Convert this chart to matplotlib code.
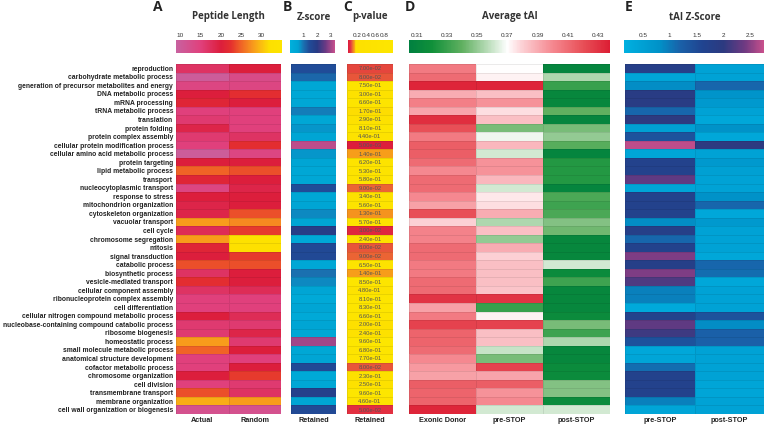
"""GO-term heatmap panel: peptide length, Z-score, p-value, tAI and tAI Z-score."""
import matplotlib

matplotlib.use("Agg")
import matplotlib.pyplot as plt
import numpy as np
from matplotlib.cm import ScalarMappable
from matplotlib.colors import LinearSegmentedColormap, Normalize

go_terms = [
    "reproduction", "carbohydrate metabolic process",
    "generation of precursor metabolites and energy", "DNA metabolic process",
    "mRNA processing", "tRNA metabolic process", "translation", "protein folding",
    "protein complex assembly", "cellular protein modification process",
    "cellular amino acid metabolic process", "protein targeting",
    "lipid metabolic process", "transport", "nucleocytoplasmic transport",
    "response to stress", "mitochondrion organization", "cytoskeleton organization",
    "vacuolar transport", "cell cycle", "chromosome segregation", "mitosis",
    "signal transduction", "catabolic process", "biosynthetic process",
    "vesicle-mediated transport", "cellular component assembly",
    "ribonucleoprotein complex assembly", "cell differentiation",
    "cellular nitrogen compound metabolic process",
    "nucleobase-containing compound catabolic process", "ribosome biogenesis",
    "homeostatic process", "small molecule metabolic process",
    "anatomical structure development", "cofactor metabolic process",
    "chromosome organization", "cell division", "transmembrane transport",
    "membrane organization", "cell wall organization or biogenesis",
]

pep_actual = [17, 10, 14, 20, 21, 15, 16, 19, 16, 15, 10, 20, 25, 21, 14, 20, 19, 19,
              28, 18, 28, 21, 20, 24, 17, 22, 17, 15, 15, 20, 16, 16, 28, 25, 15, 15,
              20, 15, 24, 29, 12]
pep_random = [20, 13, 14, 22, 20, 15, 15, 15, 17, 22, 14, 20, 24, 20, 19, 20, 20, 24,
              27, 23, 33, 32, 23, 24, 20, 20, 18, 15, 15, 18, 16, 19, 16, 20, 15, 20,
              23, 16, 17, 28, 12]
zscore_retained = [1.4, 1.1, 0.4, 0.4, 0.4, 0.9, 0.4, 0.7, 0.5, 3.2, 0.7, 0.5, 0.4, 0.4,
                   1.4, 0.4, 0.5, 0.8, 0.5, 1.9, 0.3, 1.5, 1.5, 0.4, 1.0, 0.8, 0.5, 0.3,
                   0.5, 0.3, 0.5, 0.4, 3.0, 0.4, 0.5, 1.5, 0.3, 0.4, 1.8, 0.5, 1.5]
pval_retained = [0.07, 0.08, 0.75, 0.30, 0.66, 0.17, 0.29, 0.81, 0.44, 0.005, 0.14, 0.62,
                 0.53, 0.58, 0.09, 0.34, 0.56, 0.13, 0.57, 0.03, 0.24, 0.08, 0.09, 0.65,
                 0.14, 0.85, 0.48, 0.81, 0.83, 0.66, 0.20, 0.24, 0.96, 0.68, 0.77, 0.08,
                 0.23, 0.25, 0.96, 0.46, 0.05]
tai_exonic = [0.405, 0.41, 0.435, 0.39, 0.403, 0.392, 0.432, 0.42, 0.405, 0.415, 0.415,
              0.41, 0.40, 0.41, 0.41, 0.40, 0.393, 0.42, 0.38, 0.402, 0.402, 0.41, 0.41,
              0.405, 0.405, 0.41, 0.41, 0.43, 0.393, 0.405, 0.425, 0.413, 0.413, 0.41,
              0.40, 0.395, 0.393, 0.415, 0.413, 0.413, 0.435]
tai_pre = [0.370, 0.373, 0.435, 0.385, 0.397, 0.377, 0.385, 0.345, 0.367, 0.387, 0.362,
           0.397, 0.397, 0.387, 0.362, 0.375, 0.377, 0.390, 0.355, 0.385, 0.350, 0.390,
           0.380, 0.385, 0.385, 0.385, 0.383, 0.430, 0.330, 0.373, 0.425, 0.385, 0.385,
           0.360, 0.345, 0.425, 0.392, 0.415, 0.397, 0.400, 0.362]
tai_post = [0.310, 0.355, 0.330, 0.312, 0.312, 0.340, 0.310, 0.345, 0.350, 0.338, 0.310,
            0.325, 0.325, 0.325, 0.310, 0.335, 0.332, 0.335, 0.347, 0.343, 0.312, 0.312,
            0.312, 0.362, 0.315, 0.332, 0.312, 0.312, 0.312, 0.315, 0.345, 0.332, 0.355,
            0.312, 0.312, 0.315, 0.315, 0.347, 0.347, 0.315, 0.362]
taiz_pre = [1.8, 0.4, 0.85, 1.9, 1.9, 1.15, 2.0, 0.5, 1.4, 2.7, 0.4, 1.7, 1.7, 2.3, 0.4,
            1.7, 1.7, 1.7, 0.85, 1.8, 1.15, 1.7, 2.45, 1.8, 2.45, 2.2, 0.95, 0.95, 0.3,
            1.7, 2.3, 2.1, 1.4, 0.35, 0.4, 1.1, 1.7, 1.7, 1.7, 0.95, 0.4]
taiz_post = [0.45, 0.45, 1.15, 0.75, 0.65, 0.45, 0.35, 0.8, 0.35, 2.0, 0.45, 0.65, 0.5,
             0.45, 0.45, 0.8, 1.15, 0.35, 0.65, 0.45, 0.45, 0.45, 0.35, 1.15, 1.1, 0.35,
             0.45, 0.45, 0.45, 1.4, 0.85, 1.2, 1.2, 0.45, 0.45, 0.45, 0.45, 0.4, 0.4,
             0.45, 0.45]

W, H = 766, 426
LABEL_FONT = "Liberation Sans"
TITLE_FONT = "Open Sans"


def box(x0, y0, x1, y1):
    return [x0 / W, 1 - y1 / H, (x1 - x0) / W, (y1 - y0) / H]


def cmap_from(vmin, vmax, nodes):
    pts = [((v - vmin) / (vmax - vmin), c) for v, c in nodes]
    return LinearSegmentedColormap.from_list("c", pts)


pep_norm = Normalize(9, 35)
pep_cmap = cmap_from(9, 35, [(9, "#c862a0"), (15, "#e0407c"), (20, "#dc1e3c"),
                             (22.5, "#e4302e"), (24.5, "#ee5a28"), (27.5, "#f7921e"),
                             (30, "#fbbf10"), (32, "#fde000"), (35, "#fde400")])
z_norm = Normalize(0, 3.3)
z_cmap = cmap_from(0, 3.3, [(0, "#00b0dc"), (0.6, "#00a2d2"), (1.0, "#1a70b0"),
                            (1.4, "#204c98"), (2.0, "#283a84"), (2.6, "#6a3a84"),
                            (3.3, "#c8508c")])
p_norm = Normalize(0, 1)
p_cmap = cmap_from(0, 1, [(0, "#dc1c3c"), (0.05, "#e23040"), (0.08, "#e8583a"),
                          (0.14, "#f8a018"), (0.17, "#fde000"), (1, "#fde600")])
tai_norm = Normalize(0.305, 0.438)
tai_cmap = cmap_from(0.305, 0.438, [(0.305, "#008040"), (0.32, "#10903a"),
                                    (0.34, "#60b060"), (0.36, "#c8e4c8"),
                                    (0.37, "#ffffff"), (0.38, "#fcd0d4"),
                                    (0.40, "#f58890"), (0.42, "#e85058"),
                                    (0.438, "#dc1e34")])
tz_norm = Normalize(0.15, 2.75)
tz_cmap = cmap_from(0.15, 2.75, [(0.15, "#00b0e0"), (0.8, "#0092c8"), (1.2, "#1a60a8"),
                                 (1.6, "#204490"), (2.0, "#2c3a80"), (2.4, "#703a82"),
                                 (2.75, "#c8508c")])

fig = plt.figure(figsize=(W / 100, H / 100), dpi=100)
n = len(go_terms)
top, bottom = 64, 414

panels = [
    ("A", "Peptide Length", (176, 281), (176, 282), [pep_actual, pep_random],
     ["Actual", "Random"], pep_cmap, pep_norm, [10, 15, 20, 25, 30], "{:g}"),
    ("B", "Z-score", (291, 336), (290, 335), [zscore_retained], ["Retained"],
     z_cmap, z_norm, [1, 2, 3], "{:g}"),
    ("C", "p-value", (347, 393), (348, 393), [pval_retained], ["Retained"],
     p_cmap, p_norm, [0.2, 0.4, 0.6, 0.8], "{:g}"),
    ("D", "Average tAI", (409, 610), (409, 610), [tai_exonic, tai_pre, tai_post],
     ["Exonic Donor", "pre-STOP", "post-STOP"], tai_cmap, tai_norm,
     [0.31, 0.33, 0.35, 0.37, 0.39, 0.41, 0.43], "{:.2f}"),
    ("E", "tAI Z-Score", (625, 764), (624, 764), [taiz_pre, taiz_post],
     ["pre-STOP", "post-STOP"], tz_cmap, tz_norm, [0.5, 1, 1.5, 2, 2.5], "{:g}"),
]
letter_x = {"A": 153, "B": 283, "C": 343, "D": 405, "E": 625}

for letter, title, (x0, x1), (c0, c1), cols, col_labels, cmap, norm, ticks, fmt in panels:
    ax = fig.add_axes(box(x0, top, x1, bottom))
    data = np.array(cols).T
    ax.pcolormesh(np.arange(data.shape[1] + 1), np.arange(n + 1), data, cmap=cmap,
                  norm=norm, edgecolors=(0, 0, 0, 0.08), linewidth=0.4)
    ax.set_xlim(0, data.shape[1])
    ax.set_ylim(n, 0)
    ax.set_xticks(np.arange(data.shape[1]) + 0.5)
    ax.set_xticklabels(col_labels, fontsize=5.2, fontweight="bold", family=LABEL_FONT,
                       color="#222222")
    ax.tick_params(length=0, pad=2)
    for s in ax.spines.values():
        s.set_visible(False)
    if letter == "A":
        ax.set_yticks(np.arange(n) + 0.5)
        ax.set_yticklabels(go_terms, fontsize=4.9, fontweight="bold", family=LABEL_FONT,
                           color="#222222")
    else:
        ax.set_yticks([])
    if letter == "C":
        for i, p in enumerate(pval_retained):
            ax.text(0.5, i + 0.55, f"{p:.2e}", ha="center", va="center", fontsize=4.2,
                    family=LABEL_FONT, color="#555555")

    cax = fig.add_axes(box(c0, 40, c1, 53))
    cb = fig.colorbar(ScalarMappable(norm=norm, cmap=cmap), cax=cax,
                      orientation="horizontal")
    cb.outline.set_visible(False)
    cax.xaxis.set_ticks_position("top")
    cb.set_ticks(ticks)
    cb.set_ticklabels([fmt.format(t) for t in ticks])
    cax.tick_params(length=0, pad=1.5, labelsize=4.6)
    for lbl in cax.get_xticklabels():
        lbl.set_family(LABEL_FONT)
        lbl.set_color("#333333")

    xc = ((x0 + x1) / 2) / W
    fig.text(xc, 1 - 17 / H, title, ha="center", va="center", fontsize=7,
             fontweight="bold", family=TITLE_FONT, color="#333333")
    fig.text(letter_x[letter] / W, 1 - 7 / H, letter, ha="left", va="center",
             fontsize=10, fontweight="bold", family=TITLE_FONT, color="#222222")

fig.savefig("out.png", dpi=100)
